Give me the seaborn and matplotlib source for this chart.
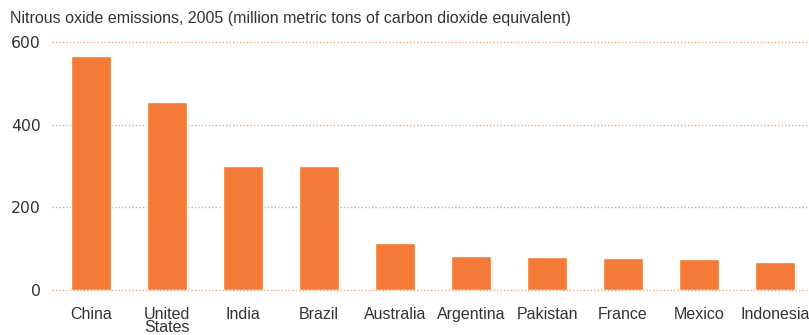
import matplotlib
matplotlib.use("Agg")
import matplotlib.pyplot as plt
import pandas as pd
import seaborn as sns

countries = ["China", "United\nStates", "India", "Brazil", "Australia",
             "Argentina", "Pakistan", "France", "Mexico", "Indonesia"]
emissions = [567, 456, 300, 300, 114, 83, 80, 77, 75, 68]
y_ticks = [0, 200, 400, 600]

BAR_COLOR = "#F47A38"
GRID_COLOR = "#F4A574"
TEXT_COLOR = "#333333"

sns.set_theme(style="white")
plt.rcParams["font.family"] = ["Liberation Sans", "DejaVu Sans"]

df = pd.DataFrame({"country": countries, "value": emissions})

fig = plt.figure(figsize=(8.09, 3.35), dpi=100)
ax = fig.add_axes([52 / 809, 45 / 335, (809 - 52) / 809, 248 / 335])

sns.barplot(data=df, x="country", y="value", color=BAR_COLOR, width=0.526,
            saturation=1, ax=ax, zorder=3)

ax.set_ylim(0, 600)
ax.set_xlim(-0.513, 9.447)
ax.set_yticks(y_ticks)
for y in y_ticks:
    ax.axhline(y, color=GRID_COLOR, linestyle=(0, (1, 1.5)), linewidth=1,
               zorder=1, clip_on=False)

sns.despine(ax=ax, left=True, bottom=True)
ax.tick_params(axis="both", length=0, labelsize=11.5, colors=TEXT_COLOR)
ax.tick_params(axis="y", pad=8)
ax.tick_params(axis="x", pad=12)
for lbl in ax.get_yticklabels():
    lbl.set_fontfamily("DejaVu Sans")
    lbl.set_fontsize(11.3)
for lbl in ax.get_xticklabels():
    lbl.set_linespacing(0.9)
ax.set_xlabel("")
ax.set_ylabel("")

fig.text(10 / 809, 1 - 18 / 335,
         "Nitrous oxide emissions, 2005 (million metric tons of carbon dioxide equivalent)",
         fontsize=11.5, color=TEXT_COLOR, va="center", ha="left")

fig.savefig("out.png", dpi=100)
plt.close(fig)
